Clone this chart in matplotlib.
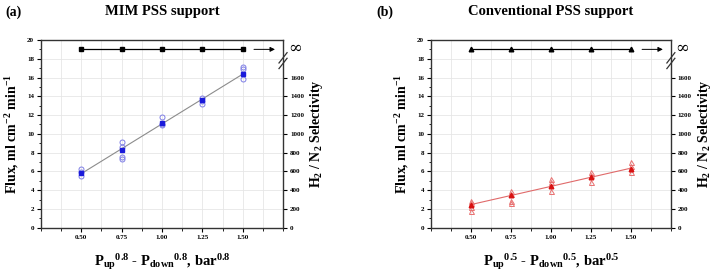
import matplotlib
matplotlib.use("Agg")
import matplotlib.pyplot as plt
import numpy as np
from matplotlib.ticker import MultipleLocator

plt.rcParams['font.family'] = ['Liberation Serif', 'DejaVu Serif']
plt.rcParams['font.weight'] = 'bold'
plt.rcParams['mathtext.fontset'] = 'custom'
plt.rcParams['mathtext.rm'] = 'Liberation Serif:bold'
plt.rcParams['mathtext.bf'] = 'Liberation Serif:bold'
plt.rcParams['mathtext.it'] = 'Liberation Serif:bold'

# ---------------- data ----------------
x_vals = [0.50, 0.75, 1.00, 1.25, 1.50]
x_ticks = [0.50, 0.75, 1.00, 1.25, 1.50]
x_ticklabels = ['0.50', '0.75', '1.00', '1.25', '1.50']

# (a) MIM PSS support
mim_mean = [5.8, 8.3, 11.2, 13.6, 16.4]
mim_runs = [[6.2, 5.9, 5.5],
            [9.1, 8.6, 7.5, 7.3],
            [11.8, 11.0, 10.9],
            [13.8, 13.5, 13.2],
            [17.1, 16.9, 15.8]]
mim_sel = [19, 19, 19, 19, 19]

# (b) Conventional PSS support
conv_mean = [2.4, 3.5, 4.4, 5.4, 6.3]
conv_runs = [[2.8, 2.6, 2.2, 1.8],
             [3.9, 3.6, 2.8, 2.6],
             [5.2, 4.9, 3.9],
             [5.9, 5.6, 4.9],
             [7.0, 6.6, 5.9]]
conv_sel = [19, 19, 19, 19, 19]

flux_ticks = list(range(0, 21, 2))
sel_ticks = [0, 200, 400, 600, 800, 1000, 1200, 1400, 1600]

fig = plt.figure(figsize=(7.14, 2.72), dpi=100)

panels = [
    dict(pos=[0.0574, 0.163, 0.339, 0.69], mean=mim_mean, runs=mim_runs, sel=mim_sel,
         color='#1a1adb', runcolor='#7f7fe6', fitcolor='#8c8c8c', mk='s', omk='o',
         smk='s', title='MIM PSS support', tag='(a)', exp='0.8'),
    dict(pos=[0.6036, 0.163, 0.336, 0.69], mean=conv_mean, runs=conv_runs, sel=conv_sel,
         color='#d81010', runcolor='#e87070', fitcolor='#e06a6a', mk='^', omk='^',
         smk='^', title='Conventional PSS support', tag='(b)', exp='0.5'),
]

for p in panels:
    ax = fig.add_axes(p['pos'])
    ax.set_xlim(0.25, 1.75)
    ax.set_ylim(0, 20)
    ax.set_xticks(x_ticks)
    ax.set_xticklabels(x_ticklabels)
    ax.set_yticks(flux_ticks)
    ax.xaxis.set_minor_locator(MultipleLocator(0.125))
    ax.yaxis.set_minor_locator(MultipleLocator(1))
    ax.grid(True, which='major', color='#e6e6e6', lw=0.6)
    ax.grid(True, which='minor', axis='x', color='#e6e6e6', lw=0.6)
    ax.set_axisbelow(True)
    ax.tick_params(axis='both', which='major', labelsize=5, length=3, width=0.8, direction='out', pad=2)
    ax.tick_params(axis='both', which='minor', length=1.8, width=0.6, direction='out')
    for lab in ax.get_xticklabels() + ax.get_yticklabels():
        lab.set_fontweight('bold')
    for s in ax.spines.values():
        s.set_linewidth(1.0)
        s.set_color('#333333')
    ax.spines['right'].set_visible(False)

    # runs
    for xv, runs in zip(x_vals, p['runs']):
        ax.plot([xv] * len(runs), runs, linestyle='none', marker=p['omk'], ms=3.6,
                mfc='none', mec=p['runcolor'], mew=0.7, zorder=3)
    # fit line
    coef = np.polyfit(x_vals, p['mean'], 1)
    xf = np.array([x_vals[0], x_vals[-1]])
    ax.plot(xf, np.polyval(coef, xf), color=p['fitcolor'], lw=0.8, zorder=2)
    ax.plot(x_vals, p['mean'], linestyle='none', marker=p['mk'], ms=3.3,
            color=p['color'], zorder=4)

    # selectivity line
    ax.plot(x_vals, p['sel'], color='black', lw=0.9, marker=p['smk'], ms=3.3, zorder=4)
    ax.annotate('', xy=(1.70, 19), xytext=(1.57, 19),
                arrowprops=dict(arrowstyle='-|>', color='black', lw=0.7,
                                mutation_scale=7, shrinkA=0, shrinkB=0))
    ax.text(1.78, 19.1, '∞', fontsize=12, va='center', ha='left', fontweight='normal',
            family=['DejaVu Serif'], clip_on=False)

    # right axis
    ax2 = ax.twinx()
    ax2.set_ylim(0, 2000)
    ax2.set_yticks(sel_ticks)
    ax2.yaxis.set_minor_locator(MultipleLocator(100))
    ax2.tick_params(axis='y', which='major', labelsize=5, length=3, width=0.8, direction='out', pad=2)
    ax2.tick_params(axis='y', which='minor', length=0)
    for lab in ax2.get_yticklabels():
        lab.set_fontweight('bold')
    for s in ax2.spines.values():
        s.set_visible(False)
    ax2.spines['right'].set_visible(True)
    ax2.spines['right'].set_linewidth(1.0)
    ax2.spines['right'].set_color('#333333')
    # break in right spine with marks
    ax.fill_between([1.74, 1.76], [17.45, 17.45], [18.15, 18.15], color='white',
                    zorder=10, clip_on=False, lw=0)
    for dy in (-0.3, 0.3):
        ax.plot([1.725, 1.775], [17.8 + dy - 0.55, 17.8 + dy + 0.55],
                color='#333333', lw=0.9, clip_on=False, zorder=11)
    ax2.set_ylabel('H$_2$ / N$_2$ Selectivity', fontsize=10, fontweight='bold', labelpad=3)

    ax.set_ylabel('Flux, ml cm$^{-2}$ min$^{-1}$', fontsize=10, fontweight='bold', labelpad=4)
    e = p['exp']
    ax.set_xlabel('P$_{up}$$^{' + e + '}$ - P$_{down}$$^{' + e + '}$, bar$^{' + e + '}$',
                  fontsize=10.5, fontweight='bold', labelpad=9)
    ax.set_title(p['title'], fontsize=10.5, fontweight='bold', pad=18)

fig.text(0.008, 0.955, '(a)', fontsize=10, fontweight='bold', va='center')
fig.text(0.527, 0.955, '(b)', fontsize=10, fontweight='bold', va='center')

fig.savefig('out.png', dpi=100)
